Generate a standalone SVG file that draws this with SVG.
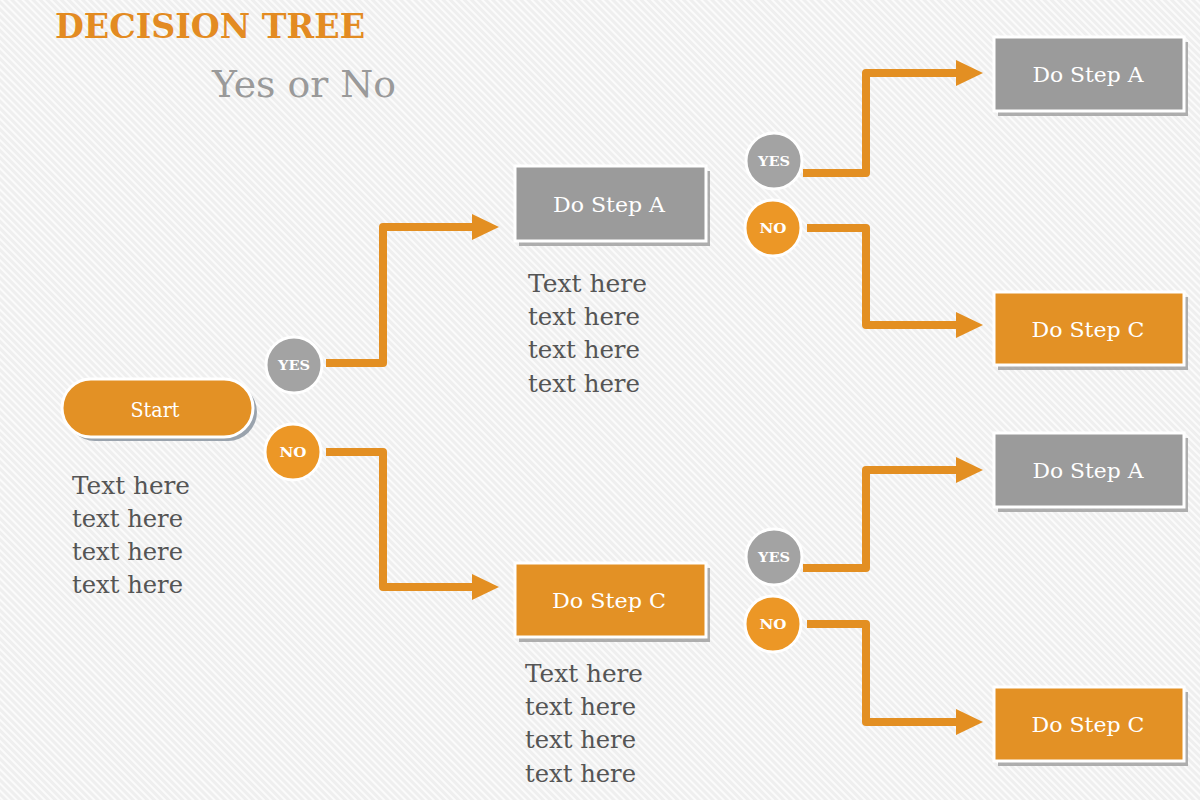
<svg xmlns="http://www.w3.org/2000/svg" width="1200" height="800" viewBox="0 0 1200 800">
  <defs>
    <pattern id="stripes" width="5" height="5" patternUnits="userSpaceOnUse" patternTransform="rotate(-45)">
      <rect width="5" height="5" fill="#efefef"/>
      <rect width="2" height="5" fill="#fbfbfb"/>
    </pattern>
    <marker id="arrow" markerUnits="userSpaceOnUse" markerWidth="28" markerHeight="28" viewBox="0 0 28 28" refX="1" refY="14" orient="auto">
      <path d="M0,1 L27,14 L0,27 Z" fill="#e38f22"/>
    </marker>
    <style>
      .serif { font-family: "DejaVu Serif", "Liberation Serif", serif; }
      .conn { fill: none; stroke: #e38f22; stroke-width: 8; stroke-linejoin: round; marker-end: url(#arrow); }
      .shadow { fill: #9c9c9c; opacity: 0.8; }
      .boxGray { fill: #9b9b9b; stroke: #ffffff; stroke-width: 3; }
      .boxOrange { fill: #e39125; stroke: #ffffff; stroke-width: 3; }
      .boxText { fill: #ffffff; font-size: 21px; text-anchor: middle; }
      .yes { fill: #a3a3a3; stroke: #ffffff; stroke-width: 3; }
      .no { fill: #ec9726; stroke: #ffffff; stroke-width: 3; }
      .circText { fill: #ffffff; font-size: 13px; font-weight: bold; text-anchor: middle; }
      .body { fill: #555555; font-size: 24px; }
    </style>
  </defs>

  <rect width="1200" height="800" fill="url(#stripes)"/>

  <g id="title">
    <text class="serif" x="55" y="38" font-size="33" font-weight="bold" fill="#e38b22" textLength="310" lengthAdjust="spacingAndGlyphs">DECISION TREE</text>
    <text class="serif" x="212" y="97" font-size="37" fill="#9a9a9a" textLength="184" lengthAdjust="spacingAndGlyphs">Yes or No</text>
  </g>

  <g id="connectors">
    <path class="conn" d="M326,363 H383 V227 H473"/>
    <path class="conn" d="M326,452 H383 V587 H473"/>
    <path class="conn" d="M803,173 H866 V73 H957"/>
    <path class="conn" d="M807,228 H866 V325 H957"/>
    <path class="conn" d="M803,568 H866 V470 H957"/>
    <path class="conn" d="M807,624 H866 V722 H957"/>
  </g>

  <g id="start">
    <rect x="66" y="383" width="191" height="58" rx="29" fill="#9aa3ad"/>
    <rect x="62" y="379" width="191" height="58" rx="29" fill="#e39125" stroke="#ffffff" stroke-width="3"/>
    <text class="serif boxText" x="155" y="417" textLength="49" lengthAdjust="spacingAndGlyphs">Start</text>
  </g>

  <g id="start-text" class="serif body">
    <text x="72" y="494" textLength="118" lengthAdjust="spacingAndGlyphs">Text here</text>
    <text x="72" y="527" textLength="111" lengthAdjust="spacingAndGlyphs">text here</text>
    <text x="72" y="560" textLength="111" lengthAdjust="spacingAndGlyphs">text here</text>
    <text x="72" y="593" textLength="111" lengthAdjust="spacingAndGlyphs">text here</text>
  </g>

  <g id="yes1">
    <circle class="yes" cx="294" cy="365" r="28"/>
    <text class="serif circText" x="294" y="370" textLength="32" lengthAdjust="spacingAndGlyphs">YES</text>
  </g>
  <g id="no1">
    <circle class="no" cx="293" cy="452" r="28"/>
    <text class="serif circText" x="293" y="457" textLength="27" lengthAdjust="spacingAndGlyphs">NO</text>
  </g>

  <g id="stepA1">
    <rect class="shadow" x="519" y="171" width="191" height="75"/>
    <rect class="boxGray" x="515" y="166" width="191" height="75"/>
    <text class="serif boxText" x="609" y="212" textLength="112" lengthAdjust="spacingAndGlyphs">Do Step A</text>
  </g>
  <g id="stepA1-text" class="serif body">
    <text x="528" y="292" textLength="119" lengthAdjust="spacingAndGlyphs">Text here</text>
    <text x="528" y="325" textLength="112" lengthAdjust="spacingAndGlyphs">text here</text>
    <text x="528" y="358" textLength="112" lengthAdjust="spacingAndGlyphs">text here</text>
    <text x="528" y="392" textLength="112" lengthAdjust="spacingAndGlyphs">text here</text>
  </g>

  <g id="stepC1">
    <rect class="shadow" x="519" y="568" width="191" height="74"/>
    <rect class="boxOrange" x="515" y="563" width="191" height="74"/>
    <text class="serif boxText" x="609" y="608" textLength="114" lengthAdjust="spacingAndGlyphs">Do Step C</text>
  </g>
  <g id="stepC1-text" class="serif body">
    <text x="525" y="682" textLength="118" lengthAdjust="spacingAndGlyphs">Text here</text>
    <text x="525" y="715" textLength="111" lengthAdjust="spacingAndGlyphs">text here</text>
    <text x="525" y="748" textLength="111" lengthAdjust="spacingAndGlyphs">text here</text>
    <text x="525" y="782" textLength="111" lengthAdjust="spacingAndGlyphs">text here</text>
  </g>

  <g id="yes2">
    <circle class="yes" cx="774" cy="161" r="28"/>
    <text class="serif circText" x="774" y="166" textLength="32" lengthAdjust="spacingAndGlyphs">YES</text>
  </g>
  <g id="no2">
    <circle class="no" cx="773" cy="228" r="28"/>
    <text class="serif circText" x="773" y="233" textLength="27" lengthAdjust="spacingAndGlyphs">NO</text>
  </g>

  <g id="yes3">
    <circle class="yes" cx="774" cy="557" r="28"/>
    <text class="serif circText" x="774" y="562" textLength="32" lengthAdjust="spacingAndGlyphs">YES</text>
  </g>
  <g id="no3">
    <circle class="no" cx="773" cy="624" r="28"/>
    <text class="serif circText" x="773" y="629" textLength="27" lengthAdjust="spacingAndGlyphs">NO</text>
  </g>

  <g id="stepA2">
    <rect class="shadow" x="998" y="42" width="190" height="74"/>
    <rect class="boxGray" x="994" y="37" width="190" height="74"/>
    <text class="serif boxText" x="1088" y="82" textLength="111" lengthAdjust="spacingAndGlyphs">Do Step A</text>
  </g>
  <g id="stepC2">
    <rect class="shadow" x="998" y="297" width="190" height="73"/>
    <rect class="boxOrange" x="994" y="292" width="190" height="73"/>
    <text class="serif boxText" x="1088" y="337" textLength="113" lengthAdjust="spacingAndGlyphs">Do Step C</text>
  </g>
  <g id="stepA3">
    <rect class="shadow" x="998" y="438" width="190" height="74"/>
    <rect class="boxGray" x="994" y="433" width="190" height="74"/>
    <text class="serif boxText" x="1088" y="478" textLength="111" lengthAdjust="spacingAndGlyphs">Do Step A</text>
  </g>
  <g id="stepC3">
    <rect class="shadow" x="998" y="692" width="190" height="74"/>
    <rect class="boxOrange" x="994" y="687" width="190" height="74"/>
    <text class="serif boxText" x="1088" y="732" textLength="113" lengthAdjust="spacingAndGlyphs">Do Step C</text>
  </g>
</svg>
